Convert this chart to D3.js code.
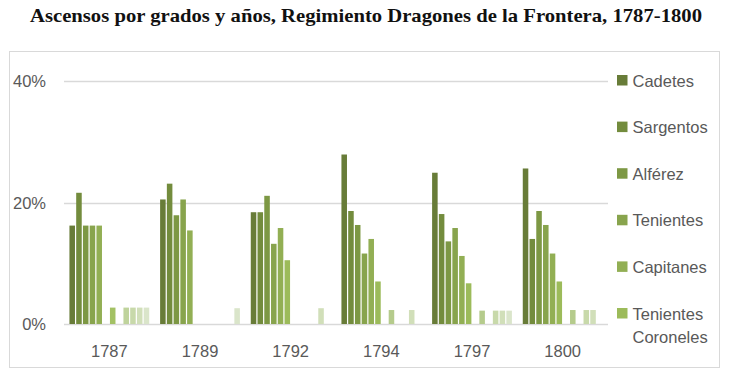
<!DOCTYPE html>
<html>
<head>
<meta charset="utf-8">
<script src="https://cdn.jsdelivr.net/npm/d3@7"></script>
<style>
  body { margin: 0; background: #fff; }
  svg { display: block; }
</style>
</head>
<body>
<div id="canvas"></div>
<script>
var width = 729;
var height = 385;

// years on the x axis
var years = ["1787", "1789", "1792", "1794", "1797", "1800"];

// series (only the first six fit in the legend of the original)
var ranks = ["Cadetes", "Sargentos", "Alférez", "Tenientes", "Capitanes", "Tenientes Coroneles",
             "Serie 7", "Serie 8", "Serie 9", "Serie 10", "Serie 11", "Serie 12"];
var legendRanks = ranks.slice(0, 6);

// percentages per year, one value per series
var v1787 = [16.2, 21.6, 16.2, 16.2, 16.2, 0, 2.7, 0, 2.7, 2.7, 2.7, 2.7];
var v1789 = [20.5, 23.1, 17.9, 20.5, 15.4, 0, 0, 0, 0, 0, 0, 2.6];
var v1792 = [18.4, 18.4, 21.1, 13.2, 15.8, 10.5, 0, 0, 0, 0, 2.6, 0];
var v1794 = [27.9, 18.6, 16.3, 11.6, 14.0, 7.0, 0, 2.3, 0, 0, 2.3, 0];
var v1797 = [24.9, 18.1, 13.6, 15.8, 11.2, 6.7, 0, 2.2, 0, 2.2, 2.2, 2.2];
var v1800 = [25.6, 14.0, 18.6, 16.3, 11.6, 7.0, 0, 2.3, 0, 2.3, 2.3, 0];
var values = [v1787, v1789, v1792, v1794, v1797, v1800];

var yTicks = [0, 20, 40];

var colors = ["#687c38", "#738c3d", "#7d9844", "#88a44d", "#92af54", "#9cbb5a",
              "#a3c164", "#b5cb8c", "#bfd39c", "#c8d9aa", "#d1dfb9", "#dae5ca"];

var svg = d3.select("#canvas")
    .append("svg")
    .attr("width", width)
    .attr("height", height);

// title
svg.append("text")
    .attr("x", 366)
    .attr("y", 22)
    .attr("text-anchor", "middle")
    .attr("font-family", "'Liberation Serif', serif")
    .attr("font-weight", "bold")
    .attr("font-size", 19)
    .attr("textLength", 672)
    .attr("lengthAdjust", "spacingAndGlyphs")
    .attr("fill", "#111")
    .text("Ascensos por grados y años, Regimiento Dragones de la Frontera, 1787-1800");

// chart frame
svg.append("rect")
    .attr("x", 9.5)
    .attr("y", 51.5)
    .attr("width", 710)
    .attr("height", 316)
    .attr("fill", "none")
    .attr("stroke", "#d9d9d9");

var x0 = d3.scaleBand()
    .domain(years)
    .range([64, 608])
    .paddingInner(0.12)
    .paddingOuter(0.06);

var x1 = d3.scaleBand()
    .domain(d3.range(ranks.length))
    .range([0, x0.bandwidth()])
    .paddingInner(0.18);

var y = d3.scaleLinear()
    .domain([0, 40])
    .range([324, 81]);

// gridlines
svg.append("g")
    .selectAll("line")
    .data(yTicks)
    .join("line")
    .attr("x1", 64)
    .attr("x2", 608)
    .attr("y1", d => Math.round(y(d)) + 0.5)
    .attr("y2", d => Math.round(y(d)) + 0.5)
    .attr("stroke", "#d9d9d9")
    .attr("stroke-width", 1.5);

// y labels
svg.append("g")
    .selectAll("text")
    .data(yTicks)
    .join("text")
    .attr("x", 46)
    .attr("y", d => y(d) + 6)
    .attr("text-anchor", "end")
    .attr("font-family", "'Liberation Sans', Arial, sans-serif")
    .attr("font-size", 16.5)
    .attr("fill", "#595959")
    .text(d => d + "%");

// bars
var groups = svg.append("g")
    .selectAll("g")
    .data(years)
    .join("g")
    .attr("transform", d => "translate(" + x0(d) + ",0)");

groups.selectAll("rect")
    .data((d, i) => values[i].map((v, j) => ({ s: j, v: v })).filter(e => e.v > 0))
    .join("rect")
    .attr("x", d => x1(d.s))
    .attr("width", x1.bandwidth())
    .attr("y", d => y(d.v))
    .attr("height", d => y(0) - y(d.v))
    .attr("fill", d => colors[d.s]);

// x labels
var xAxis = d3.axisBottom(x0).tickSize(0).tickPadding(0);
var gx = svg.append("g")
    .attr("transform", "translate(0,357)")
    .call(xAxis);
gx.select(".domain").remove();
gx.selectAll("text")
    .attr("dy", 0)
    .attr("font-family", "'Liberation Sans', Arial, sans-serif")
    .attr("font-size", 16.5)
    .attr("fill", "#595959");

// legend
var legend = svg.append("g")
    .selectAll("g")
    .data(legendRanks)
    .join("g")
    .attr("transform", (d, i) => "translate(617," + (80.5 + i * 46.6) + ")");

legend.append("rect")
    .attr("x", 0)
    .attr("y", -5.5)
    .attr("width", 10.5)
    .attr("height", 10.5)
    .attr("fill", (d, i) => colors[i]);

legend.append("text")
    .attr("font-family", "'Liberation Sans', Arial, sans-serif")
    .attr("font-size", 16.5)
    .attr("fill", "#595959")
    .each(function(d) {
        var words = d.split(" ");
        var t = d3.select(this);
        words.forEach((w, k) => {
            t.append("tspan")
                .attr("x", 15.5)
                .attr("y", 6 + k * 23)
                .text(w);
        });
    });
</script>
</body>
</html>
